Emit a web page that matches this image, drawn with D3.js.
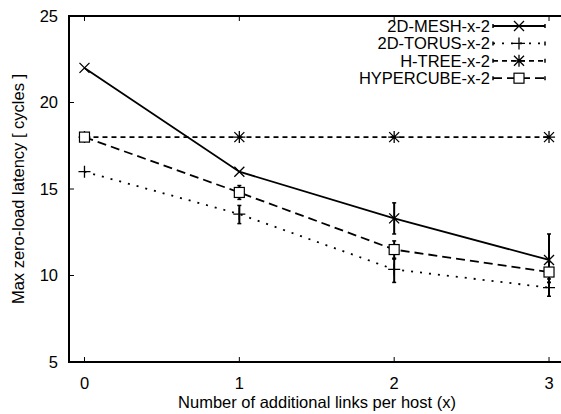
<!DOCTYPE html>
<html lang="en">
<head>
    <meta charset="UTF-8">
    <title>Max zero-load latency</title>
    <style>
        body {
            margin: 0;
            background: #fff;
            font-family: "Liberation Sans", Arial, sans-serif;
        }
        svg text {
            font-family: "Liberation Sans", Arial, sans-serif;
            font-size: 16.5px;
            fill: #000;
        }
    </style>
</head>
<body>
    <svg id="chart"></svg>

    <script src="https://d3js.org/d3.v7.min.js"></script>
    <script>
        // values
        const xs = [0, 1, 2, 3];
        const names = ['2D-MESH-x-2', '2D-TORUS-x-2', 'H-TREE-x-2', 'HYPERCUBE-x-2'];
        const mesh = [22, 16, 13.3, 10.9];
        const meshLo = [22, 16, 12.4, 9.6];
        const meshHi = [22, 16, 14.2, 12.4];
        const torus = [16, 13.55, 10.35, 9.3];
        const torusLo = [16, 13.0, 9.6, 8.8];
        const torusHi = [16, 14.05, 11.0, 9.8];
        const htree = [18, 18, 18, 18];
        const hyper = [18, 14.8, 11.5, 10.2];
        const hyperLo = [18, 14.4, 10.95, 9.6];
        const hyperHi = [18, 15.2, 12.0, 10.8];
        const yTicks = [5, 10, 15, 20, 25];

        const width = 561, height = 414;

        const svg = d3.select('#chart')
            .attr('width', width)
            .attr('height', height);

        const x = d3.scaleLinear().domain([-0.1, 3.1]).range([69, 564.5]);
        const y = d3.scaleLinear().domain([5, 25]).range([362, 16]);

        // frame
        svg.append('rect')
            .attr('x', x(-0.1)).attr('y', y(25))
            .attr('width', x(3.1) - x(-0.1)).attr('height', y(5) - y(25))
            .attr('fill', 'none').attr('stroke', '#000').attr('stroke-width', 2);

        // ticks inside the frame
        xs.forEach(v => {
            svg.append('line').attr('x1', x(v)).attr('x2', x(v))
                .attr('y1', y(5)).attr('y2', y(5) - 5).attr('stroke', '#000');
            svg.append('line').attr('x1', x(v)).attr('x2', x(v))
                .attr('y1', y(25)).attr('y2', y(25) + 5).attr('stroke', '#000');
            svg.append('text').attr('x', x(v)).attr('y', y(5) + 27)
                .attr('text-anchor', 'middle').text(v);
        });
        yTicks.forEach(v => {
            svg.append('line').attr('x1', x(-0.1)).attr('x2', x(-0.1) + 5)
                .attr('y1', y(v)).attr('y2', y(v)).attr('stroke', '#000');
            svg.append('text').attr('x', 58).attr('y', y(v))
                .attr('dy', '0.35em').attr('text-anchor', 'end').text(v);
        });

        svg.append('text').attr('x', 317).attr('y', 408)
            .attr('text-anchor', 'middle').text('Number of additional links per host (x)');
        svg.append('text')
            .attr('transform', `translate(24, ${y(15)}) rotate(-90)`)
            .attr('text-anchor', 'middle').text('Max zero-load latency [ cycles ]');

        // marker shapes
        function marker(g, kind, cx, cy) {
            const s = 5;
            if (kind === 'x') {
                g.append('path').attr('d', `M${cx - s},${cy - s}L${cx + s},${cy + s}M${cx - s},${cy + s}L${cx + s},${cy - s}`)
                    .attr('stroke', '#000').attr('stroke-width', 1.3).attr('fill', 'none');
            } else if (kind === 'plus') {
                g.append('path').attr('d', `M${cx - s - 1},${cy}L${cx + s + 1},${cy}M${cx},${cy - s - 1}L${cx},${cy + s + 1}`)
                    .attr('stroke', '#000').attr('stroke-width', 1.3).attr('fill', 'none');
            } else if (kind === 'star') {
                g.append('path').attr('d', `M${cx - s - 1},${cy}L${cx + s + 1},${cy}M${cx},${cy - s - 1}L${cx},${cy + s + 1}` +
                    `M${cx - s},${cy - s}L${cx + s},${cy + s}M${cx - s},${cy + s}L${cx + s},${cy - s}`)
                    .attr('stroke', '#000').attr('stroke-width', 1.3).attr('fill', 'none');
            } else if (kind === 'square') {
                g.append('rect').attr('x', cx - 5).attr('y', cy - 5).attr('width', 10).attr('height', 10)
                    .attr('fill', '#fff').attr('stroke', '#000').attr('stroke-width', 1.2);
            }
        }

        const series = [
            { name: names[0], vals: mesh, lo: meshLo, hi: meshHi, dash: null, kind: 'x' },
            { name: names[1], vals: torus, lo: torusLo, hi: torusHi, dash: '2,7', kind: 'plus' },
            { name: names[2], vals: htree, lo: htree, hi: htree, dash: '5,4', kind: 'star' },
            { name: names[3], vals: hyper, lo: hyperLo, hi: hyperHi, dash: '9,5', kind: 'square' }
        ];

        const line = d3.line().x((d, i) => x(xs[i])).y(d => y(d));

        series.forEach((s, k) => {
            const g = svg.append('g');
            g.append('path').attr('d', line(s.vals))
                .attr('fill', 'none').attr('stroke', '#000').attr('stroke-width', 1.8)
                .attr('stroke-dasharray', s.dash);
            // error bars
            xs.forEach((v, i) => {
                if (s.hi[i] - s.lo[i] < 0.01) return;
                g.append('line').attr('x1', x(v)).attr('x2', x(v))
                    .attr('y1', y(s.lo[i])).attr('y2', y(s.hi[i]))
                    .attr('stroke', '#000').attr('stroke-width', 2);
                [s.lo[i], s.hi[i]].forEach(e => {
                    g.append('line').attr('x1', x(v) - 2).attr('x2', x(v) + 2)
                        .attr('y1', y(e)).attr('y2', y(e))
                        .attr('stroke', '#000').attr('stroke-width', 1.5);
                });
            });
            xs.forEach((v, i) => marker(g, s.kind, x(v), y(s.vals[i])));

            // legend entry
            const ly = 26 + k * 17.4;
            svg.append('text').attr('x', 490).attr('y', ly).attr('dy', '0.35em')
                .attr('text-anchor', 'end').text(s.name);
            svg.append('line').attr('x1', 493).attr('x2', 545).attr('y1', ly).attr('y2', ly)
                .attr('stroke', '#000').attr('stroke-width', 1.8).attr('stroke-dasharray', s.dash);
            [493, 545].forEach(ex => {
                svg.append('line').attr('x1', ex).attr('x2', ex).attr('y1', ly - 2).attr('y2', ly + 2)
                    .attr('stroke', '#000').attr('stroke-width', 1.5);
            });
            marker(svg, s.kind, 519, ly);
        });
    </script>
</body>
</html>
